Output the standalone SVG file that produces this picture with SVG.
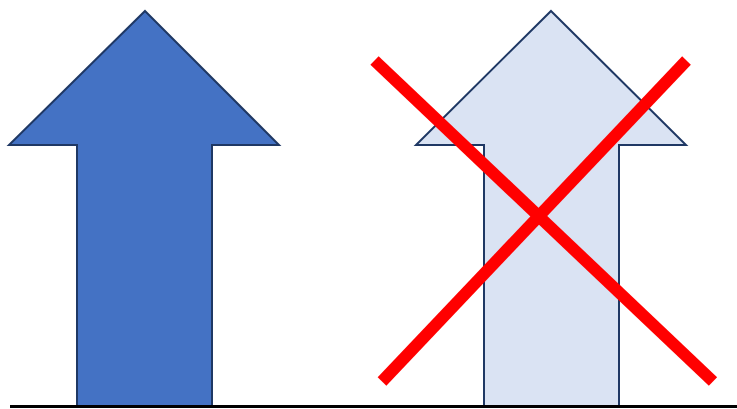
<svg xmlns="http://www.w3.org/2000/svg" width="737" height="409" viewBox="0 0 737 409">
<style>
.arrow{stroke:#1F3864;stroke-width:2;stroke-linejoin:miter}
.x{stroke:#FF0000;stroke-width:12;stroke-linecap:butt}
</style>
<rect width="737" height="409" fill="#fff"/>
<g id="arrow-left">
<polygon class="arrow" fill="#4472C4" points="145,11 279,145 212,145 212,406 77,406 77,145 9,145"/>
</g>
<g id="arrow-right">
<polygon class="arrow" fill="#DAE3F3" points="551,11 686,145 619,145 619,406 484,406 484,145 416,145"/>
</g>
<g id="connectors">
<line x1="10" y1="406.5" x2="737" y2="406.5" stroke="#000" stroke-width="3"/>
<line class="x" x1="374.5" y1="60.5" x2="713" y2="381.5"/>
<line class="x" x1="686.5" y1="60.5" x2="382" y2="381.5"/>
</g>
</svg>
